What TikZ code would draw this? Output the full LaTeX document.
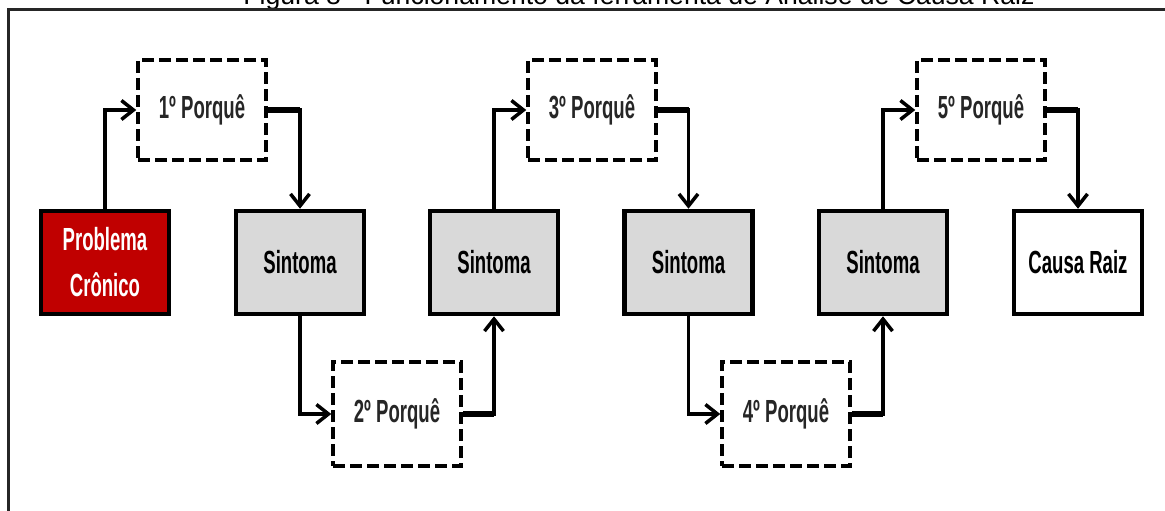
\documentclass[tikz,border=0pt]{standalone}
\usepackage{fontspec}
\setmainfont{Liberation Sans}
\newfontfamily\nar[FakeStretch=0.58]{Liberation Sans}
\usetikzlibrary{arrows.meta}
\definecolor{probred}{HTML}{C00000}
\definecolor{symgray}{HTML}{D9D9D9}
\tikzset{
  solidbox/.style={draw=black, line width=4.5pt, minimum width=128pt, minimum height=103pt, inner sep=0pt,
    font=\nar\bfseries\fontsize{32}{46}\selectfont, align=center},
  whybox/.style={draw=black, line width=3.5pt, dash pattern=on 12pt off 5pt, minimum width=128pt, minimum height=100pt,
    inner sep=0pt, font=\nar\bfseries\fontsize{32}{40}\selectfont, text=black!85},
  conn/.style={line width=3.5pt, -{Straight Barb[length=12pt,width=19pt,line width=3.5pt]}},
  exitline/.style={line width=6.5pt},
}
\begin{document}
\begin{tikzpicture}[x=1pt,y=-1pt]
\useasboundingbox (0,0) rectangle (1165,511);
% title (cut off at top, as in the reference) and frame
\node[anchor=base, font=\fontsize{26.6}{30}\selectfont, inner sep=0pt] (title) at (639,5) {Figura 8 - Funcionamento da ferramenta de Análise de Causa Raiz};
\coordinate (ftl) at (8,10);
\coordinate (ftr) at (1170,10);
\coordinate (fbl) at (8,520);
\draw[black!85, line width=3pt] (ftr) -- (ftl) -- (fbl);
% boxes
\node[solidbox, fill=probred, text=white] (pc) at (105,262.5) {Problema\\Crônico};
\node[solidbox, fill=symgray] (s1) at (300,262.5) {Sintoma};
\node[solidbox, fill=symgray] (s2) at (494,262.5) {Sintoma};
\node[solidbox, fill=symgray] (s3) at (688.5,262.5) {Sintoma};
\node[solidbox, fill=symgray] (s4) at (883,262.5) {Sintoma};
\node[solidbox, fill=white] (cr) at (1078,262.5) {Causa Raiz};
\node[whybox] (p1) at (202,110) {1º Porquê};
\node[whybox] (p3) at (592,110) {3º Porquê};
\node[whybox] (p5) at (981,110) {5º Porquê};
\node[whybox, minimum height=104pt] (p2) at (397,414) {2º Porquê};
\node[whybox, minimum height=104pt] (p4) at (786,414) {4º Porquê};
% connectors
\draw[conn] (pc.north) |- (p1.west);
\draw[exitline] (p1.east) -- (p1.east -| s1.north);
\draw[conn] (p1.east) -| (s1.north);
\draw[conn] (s1.south) |- (p2.west);
\draw[exitline] (p2.east) -- (p2.east -| s2.south);
\draw[conn] (p2.east) -| (s2.south);
\draw[conn] (s2.north) |- (p3.west);
\draw[exitline] (p3.east) -- (p3.east -| s3.north);
\draw[conn] (p3.east) -| (s3.north);
\draw[conn] (s3.south) |- (p4.west);
\draw[exitline] (p4.east) -- (p4.east -| s4.south);
\draw[conn] (p4.east) -| (s4.south);
\draw[conn] (s4.north) |- (p5.west);
\draw[exitline] (p5.east) -- (p5.east -| cr.north);
\draw[conn] (p5.east) -| (cr.north);
\end{tikzpicture}
\end{document}
